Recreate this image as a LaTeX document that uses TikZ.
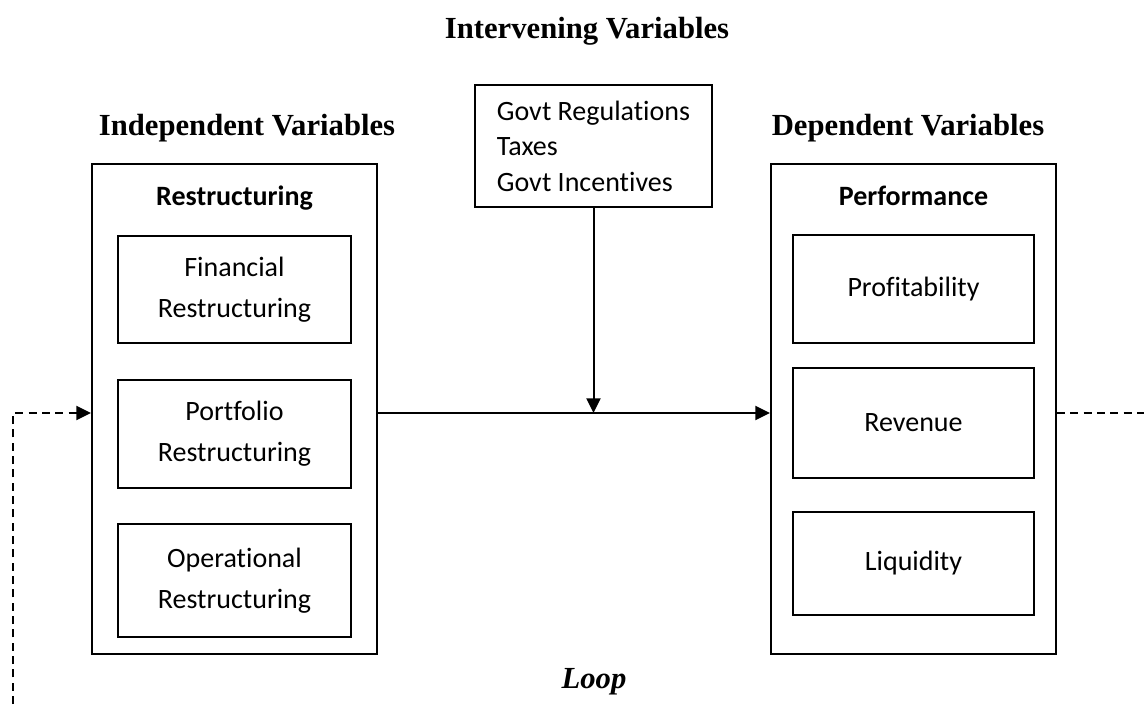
\documentclass[tikz,border=0pt]{standalone}
\usepackage{fontspec}
\setmainfont{Liberation Serif}
\newfontfamily\boxfont[Ligatures=NoCommon]{Carlito}
\usetikzlibrary{positioning}
\usetikzlibrary{arrows.meta}

\begin{document}
\begin{tikzpicture}[x=0.75pt, y=-0.75pt,
    heading/.style={anchor=base, font=\fontsize{23}{27}\selectfont\bfseries},
    outerbox/.style={draw, line width=1.5pt, minimum width=213.75pt, minimum height=367.5pt},
    innerbox/.style={draw, line width=1.5pt, align=center, font=\boxfont\fontsize{21}{31}\selectfont},
    boxtitle/.style={anchor=base, font=\boxfont\fontsize{21}{25}\selectfont\bfseries},
    flow/.style={line width=1.5pt, -{Triangle[length=11pt, width=10.5pt]}},
    loopline/.style={line width=1.5pt, dash pattern=on 6pt off 4pt}]
    \useasboundingbox (0,0) rectangle (1144,704);

    % Headings
    \node[heading] (title) at (587,38) {Intervening Variables};
    \node[heading] (indep) at (247,135) {Independent Variables};
    \node[heading] (dep) at (908,135) {Dependent Variables};

    % Independent side
    \node[outerbox] (lout) at (234.5,409) {};
    \node[boxtitle] (restr) at (234.5,205) {Restructuring};
    \node[innerbox, minimum width=174.75pt, minimum height=80.25pt] (fin) at (234.5,289.5) {Financial\\Restructuring};
    \node[innerbox, minimum width=174.75pt, minimum height=81pt] (port) at (234.5,434) {Portfolio\\Restructuring};
    \node[innerbox, minimum width=174.75pt, minimum height=84.75pt] (oper) at (234.5,580.5) {Operational\\Restructuring};

    % Dependent side
    \node[outerbox] (rout) at (913.5,409) {};
    \node[boxtitle] (perf) at (913.5,205) {Performance};
    \node[innerbox, minimum width=180.75pt, minimum height=81pt] (profit) at (913.5,289) {Profitability};
    \node[innerbox, minimum width=180.75pt, minimum height=82.5pt] (rev) at (913.5,423) {Revenue};
    \node[innerbox, minimum width=180.75pt, minimum height=77.25pt] (liq) at (913.5,563.5) {Liquidity};

    % Intervening variables
    \node[draw, line width=1.5pt, align=left, minimum width=177.75pt, minimum height=91.5pt,
          font=\boxfont\fontsize{21}{26.6}\selectfont] (govt) at (593.5,146)
        {Govt Regulations\\Taxes\\Govt Incentives};

    % Connectors
    \coordinate (mid) at (593.5,413);
    \draw[line width=1.5pt] (lout.east |- mid) -- (mid);
    \draw[flow] (govt.south) -- (mid);
    \draw[flow] (mid) -- (rout.west |- mid);

    % Loop back
    \coordinate (rend) at (1144,413);
    \coordinate (lbot) at (13,704);
    \draw[loopline] (rout.east |- mid) -- (rend);
    \draw[loopline, -{Triangle[length=11pt, width=10.5pt]}] (lbot) |- (lout.west |- mid);
    \node[heading, font=\fontsize{23}{27}\selectfont\bfseries\itshape] (loop) at (594,688) {Loop};
\end{tikzpicture}
\end{document}
